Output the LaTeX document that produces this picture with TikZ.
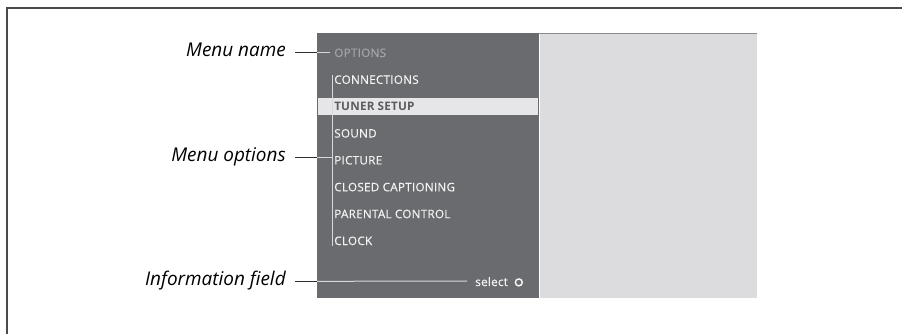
\documentclass[tikz,border=0pt]{standalone}
\usepackage{fontspec}
\setmainfont{Open Sans}
\newfontfamily\menufont{Open Sans}[FakeBold=0.35, LetterSpace=2]
\newfontfamily\menuboldfont{Open Sans}[LetterSpace=1.5]
\usetikzlibrary{positioning}

\definecolor{framegrey}{HTML}{4A4A4C}
\definecolor{panelgrey}{HTML}{6A6B6F}
\definecolor{screengrey}{HTML}{DCDCDE}
\definecolor{screenedge}{HTML}{8A8A8C}
\definecolor{barlight}{HTML}{E6E6E8}
\definecolor{itemwhite}{HTML}{F4F4F4}
\definecolor{titlegrey}{HTML}{A4A5A9}
\definecolor{bartext}{HTML}{5C5D61}
\definecolor{leaderdark}{HTML}{2E2E30}
\definecolor{leaderlight}{HTML}{D8D8DA}

\begin{document}
\begin{tikzpicture}[x=0.75pt, y=-0.75pt,
  callout/.style={anchor=base east, inner sep=0pt,
    font=\fontsize{14.2}{16}\selectfont\itshape, text=black},
  entry/.style={anchor=base west, inner sep=0pt,
    font=\fontsize{8.8}{10}\selectfont\menufont, text=itemwhite},
  darklead/.style={draw=leaderdark, line width=0.75pt},
  lightlead/.style={draw=leaderlight, line width=0.75pt}]

  \useasboundingbox (0,0) rectangle (902,334);

  %%-- FRAME (top and left edges only) --%%
  \draw[framegrey, line width=1.1pt] (7,334) -- (7,8) -- (902,8);

  %%-- MENU PANEL AND SCREEN AREA --%%
  \fill[panelgrey]  (317,33) rectangle (539,298);
  \fill[screengrey] (539,33) rectangle (757,298);
  \draw[screenedge, line width=0.9pt] (539,33.5) -- (757,33.5);
  \draw[white, line width=0.6pt] (539.5,34) -- (539.5,298);
  \coordinate (panelW) at (317,33);

  %%-- HIGHLIGHT BAR (y = 98 to 115) --%%
  \fill[barlight] (318,98) rectangle (538,115);

  %%-- MENU ENTRIES (baselines 26.86 apart) --%%
  \node[entry, text=titlegrey] (title) at (334,57) {OPTIONS};
  \foreach \name/\txt [count=\i] in {conn/CONNECTIONS, tuner/,
      sound/SOUND, pict/PICTURE, capt/CLOSED CAPTIONING,
      parent/PARENTAL CONTROL, clock/CLOCK} {
    \node[entry] (\name) at (334,{57+26.86*\i}) {\txt};
  }
  \node[entry, text=bartext, font=\fontsize{8.8}{10}\selectfont\menuboldfont\bfseries]
    at (tuner.base west) {TUNER SETUP};

  %%-- BRACKET ALONG THE OPTIONS --%%
  \coordinate (brtop) at (332,75);
  \coordinate (brbot) at (332,246);
  \draw[lightlead] (brtop) -- (brbot);

  %%-- INFORMATION FIELD --%%
  \node[entry] (select) at (475,286) {select};
  \draw[itemwhite, line width=1.1pt] ([xshift=8pt, yshift=2.7pt]select.base east) circle (2.6pt);
  \coordinate (infoend) at (467,281);

  %%-- CALLOUT LABELS --%%
  \node[callout] (lblname) at (286,57) {Menu name};
  \node[callout] (lblopts) at (286,162) {Menu options};
  \node[callout] (lblinfo) at (286,286) {Information field};

  %%-- LEADER LINES --%%
  \draw[darklead] ([xshift=6.75pt, yshift=3.5pt]lblname.base east) -- ([yshift=3.5pt]lblname.base east -| panelW);
  \draw[lightlead] ([yshift=3.5pt]lblname.base east -| panelW) -- ([xshift=-3pt, yshift=3.5pt]title.base west);
  \draw[darklead] ([xshift=6.75pt, yshift=3.5pt]lblopts.base east) -- ([yshift=3.5pt]lblopts.base east -| panelW);
  \draw[lightlead] ([yshift=3.5pt]lblopts.base east -| panelW) -- ([yshift=3.5pt]lblopts.base east -| brtop);
  \draw[darklead] ([xshift=6.75pt, yshift=3.5pt]lblinfo.base east) -- ([yshift=3.5pt]lblinfo.base east -| panelW);
  \draw[lightlead] ([yshift=3.5pt]lblinfo.base east -| panelW) -- (infoend);

\end{tikzpicture}
\end{document}
